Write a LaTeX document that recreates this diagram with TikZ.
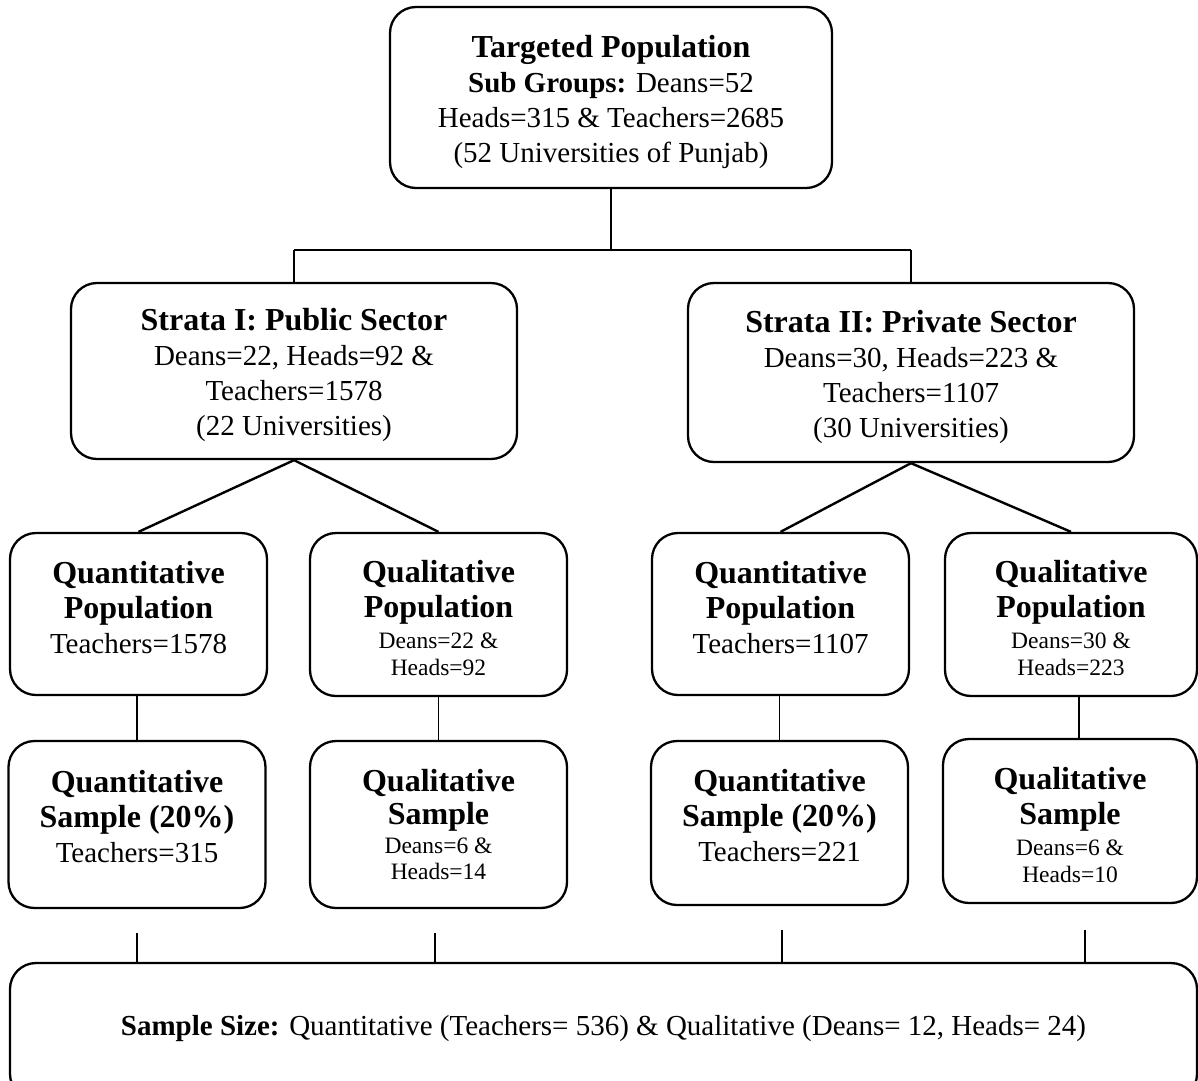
\documentclass[tikz,border=0pt]{standalone}
\usepackage{fontspec}
\setmainfont{Liberation Serif}
\newcommand\hdfont{\fontsize{32}{35}\selectfont\bfseries}
\newcommand\smfont{\fontsize{23.5}{27}\selectfont}
\begin{document}
\begin{tikzpicture}[x=1pt,y=-1pt,
  box/.style={draw, line width=2.3pt, rounded corners=26pt, inner sep=0pt},
  txt/.style={align=center, inner sep=0pt, font=\fontsize{29}{35}\selectfont},
  thinline/.style={line width=1.2pt},
  thickline/.style={line width=2.4pt}]
\useasboundingbox (0,0) rectangle (1198,1080);
\clip (0,0) rectangle (1198,1080);

% top level
\node[box, minimum width=442, minimum height=181] (top) at (611,97.5) {};
\node[txt] (top-t) at ([yshift=-4pt]top.center)
  {{\hdfont Targeted Population}\\
   \textbf{Sub Groups:} Deans=52\\
   Heads=315 \& Teachers=2685\\
   (52 Universities of Punjab)};

% strata
\node[box, minimum width=446, minimum height=176] (s1) at (294,371) {};
\node[txt] (s1-t) at ([yshift=-4pt]s1.center)
  {{\hdfont Strata I: Public Sector}\\
   Deans=22, Heads=92 \&\\
   Teachers=1578\\
   (22 Universities)};
\node[box, minimum width=446, minimum height=179] (s2) at (911,372.5) {};
\node[txt] (s2-t) at ([yshift=-4pt]s2.center)
  {{\hdfont Strata II: Private Sector}\\
   Deans=30, Heads=223 \&\\
   Teachers=1107\\
   (30 Universities)};

% populations
\node[box, minimum width=257, minimum height=162] (q1) at (138.5,614) {};
\node[txt] (q1-t) at ([yshift=6pt]q1.center)
  {{\hdfont Quantitative}\\{\hdfont Population}\\Teachers=1578};
\node[box, minimum width=257, minimum height=163] (p1) at (438.5,614.5) {};
\node[txt] (p1-t) at ([yshift=-3pt]p1.center)
  {{\hdfont Qualitative}\\{\hdfont Population}\\[-4pt]{\smfont Deans=22 \&}\\[-8pt]{\smfont Heads=92}};
\node[box, minimum width=257, minimum height=162] (q2) at (780.5,614) {};
\node[txt] (q2-t) at ([yshift=6pt]q2.center)
  {{\hdfont Quantitative}\\{\hdfont Population}\\Teachers=1107};
\node[box, minimum width=252, minimum height=163] (p2) at (1071,614.5) {};
\node[txt] (p2-t) at ([yshift=-3pt]p2.center)
  {{\hdfont Qualitative}\\{\hdfont Population}\\[-4pt]{\smfont Deans=30 \&}\\[-8pt]{\smfont Heads=223}};

% samples
\node[box, minimum width=257, minimum height=167] (qs1) at (137,824.5) {};
\node[txt] (qs1-t) at ([yshift=8pt]qs1.center)
  {{\hdfont Quantitative}\\{\hdfont Sample (20\%)}\\Teachers=315};
\node[box, minimum width=257, minimum height=167] (ps1) at (438.5,824.5) {};
\node[txt] (ps1-t) at ([yshift=0pt]ps1.center)
  {{\hdfont Qualitative}\\[-2pt]{\hdfont Sample}\\[-6pt]{\smfont Deans=6 \&}\\[-9pt]{\smfont Heads=14}};
\node[box, minimum width=257, minimum height=164] (qs2) at (779.5,823) {};
\node[txt] (qs2-t) at ([yshift=7pt]qs2.center)
  {{\hdfont Quantitative}\\{\hdfont Sample (20\%)}\\Teachers=221};
\node[box, minimum width=254, minimum height=164] (ps2) at (1070,821) {};
\node[txt] (ps2-t) at ([yshift=-4pt]ps2.center)
  {{\hdfont Qualitative}\\{\hdfont Sample}\\[-4pt]{\smfont Deans=6 \&}\\[-8pt]{\smfont Heads=10}};

% total sample
\node[box, minimum width=1187, minimum height=137] (total) at (603.5,1031.5) {};
\node[txt] (total-t) at ([yshift=3pt]total.center)
  {\textbf{Sample Size:} Quantitative (Teachers= 536) \& Qualitative (Deans= 12, Heads= 24)};

% connectors: top to strata
\coordinate (j) at (611,250);
\draw[thinline] (top.south) -- (j);
\draw[thickline] (j -| s1.north) -- (j -| s2.north);
\draw[thinline] (j -| s1.north) -- (s1.north);
\draw[thinline] (j -| s2.north) -- (s2.north);

% strata to populations
\draw[thickline] (q1.north) -- (s1.south) -- (p1.north);
\draw[thickline] (q2.north) -- (s2.south) -- (p2.north);

% populations to samples
\draw[thinline] (qs1.north |- q1.south) -- (qs1.north);
\draw[thinline] (p1.south) -- (ps1.north);
\draw[thinline] (qs2.north |- q2.south) -- (qs2.north);
\draw[thinline] (p2.south -| 1079,0) -- (ps2.north -| 1079,0);

% samples to total
\draw[thinline] ([yshift=-24pt]qs1.south) -- (qs1.south |- total.north);
\draw[thinline] ([yshift=-24pt]ps1.south -| 435,0) -- (435,0 |- total.north);
\draw[thinline] ([yshift=-24pt]qs2.south -| 782,0) -- (782,0 |- total.north);
\draw[thinline] ([yshift=-26pt]ps2.south -| 1085,0) -- (1085,0 |- total.north);
\end{tikzpicture}
\end{document}
